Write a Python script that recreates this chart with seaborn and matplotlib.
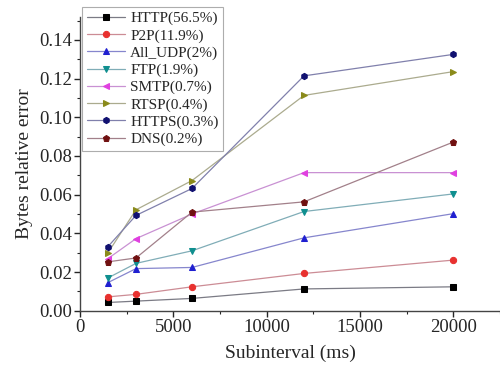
import numpy as np
import pandas as pd
import matplotlib
matplotlib.use("Agg")
import matplotlib.pyplot as plt
import matplotlib.colors as mcolors
import seaborn as sns

subinterval = [1500, 3000, 6000, 12000, 20000]
series_names = ["HTTP(56.5%)", "P2P(11.9%)", "All_UDP(2%)", "FTP(1.9%)",
                "SMTP(0.7%)", "RTSP(0.4%)", "HTTPS(0.3%)", "DNS(0.2%)"]
http = [0.0043, 0.0050, 0.0064, 0.0113, 0.0124]
p2p = [0.0072, 0.0085, 0.0124, 0.0193, 0.0262]
all_udp = [0.0146, 0.0218, 0.0224, 0.0377, 0.0502]
ftp = [0.0170, 0.0245, 0.0310, 0.0513, 0.0604]
smtp = [0.0270, 0.0373, 0.0500, 0.0714, 0.0714]
rtsp = [0.0300, 0.0522, 0.0673, 0.1113, 0.1236]
https = [0.0332, 0.0493, 0.0632, 0.1214, 0.1325]
dns = [0.0253, 0.0273, 0.0510, 0.0563, 0.0872]

values = [http, p2p, all_udp, ftp, smtp, rtsp, https, dns]
colors = ["#000000", "#e8312f", "#1f1fd0", "#0f8f8f", "#e040e0", "#8a8a1a", "#101070", "#701010"]
markers = ["s", "o", "^", "v", "<", ">", "h", "p"]

rows = []
for name, vals in zip(series_names, values):
    for x, y in zip(subinterval, vals):
        rows.append({"Subinterval": x, "err": y, "series": name})
df = pd.DataFrame(rows)

sns.set_style("ticks")
plt.rcParams["font.family"] = ["Liberation Serif", "DejaVu Serif"]

fig = plt.figure(figsize=(5.0, 3.7), dpi=100)
ax = fig.add_axes([0.16, 0.16, 0.84, 0.795])

palette = dict(zip(series_names, colors))
mk = dict(zip(series_names, markers))
sns.lineplot(data=df, x="Subinterval", y="err", hue="series", style="series",
             palette=palette, markers=mk, dashes=False, ax=ax, legend=False,
             linewidth=0.9, markersize=4.5, hue_order=series_names, style_order=series_names)

handles = []
for line, c in zip(ax.get_lines(), colors):
    rgb = np.array(mcolors.to_rgb(c))
    pale = rgb * 0.35 + np.array([0.74, 0.74, 0.80]) * 0.65
    line.set_color(pale)
    line.set_markerfacecolor(c)
    line.set_markeredgecolor(c)
    handles.append(line)

leg = ax.legend(handles, series_names, loc="upper left", frameon=True, fancybox=False,
                fontsize=11, handlelength=2.5, handletextpad=0.35, labelspacing=0.22,
                borderpad=0.3, borderaxespad=0.0, bbox_to_anchor=(82 / 500, 1 - 7 / 370),
                bbox_transform=fig.transFigure)
leg.get_frame().set_edgecolor("#999999")
leg.get_frame().set_linewidth(0.8)

ax.set_xlim(0, 22500)
ax.set_ylim(0, 0.152)
ax.set_xticks([0, 5000, 10000, 15000, 20000])
ax.set_xticks([2500, 7500, 12500, 17500, 22500], minor=True)
ax.set_yticks([0.0, 0.02, 0.04, 0.06, 0.08, 0.10, 0.12, 0.14])
ax.set_yticks(np.arange(0.01, 0.151, 0.02), minor=True)
ax.set_yticklabels([f"{v:.2f}" for v in [0.0, 0.02, 0.04, 0.06, 0.08, 0.10, 0.12, 0.14]])
ax.tick_params(axis="both", which="major", labelsize=13.5, direction="out", length=4, width=1, pad=2)
ax.tick_params(axis="both", which="minor", direction="out", length=2.5, width=0.8)
ax.set_xlabel("Subinterval (ms)", fontsize=14, labelpad=6)
ax.set_ylabel("Bytes relative error", fontsize=14, labelpad=4)
for s in ["top", "right"]:
    ax.spines[s].set_visible(False)
for s in ["left", "bottom"]:
    ax.spines[s].set_color("#444444")
    ax.spines[s].set_linewidth(1.0)

fig.savefig("out.png", dpi=100)
